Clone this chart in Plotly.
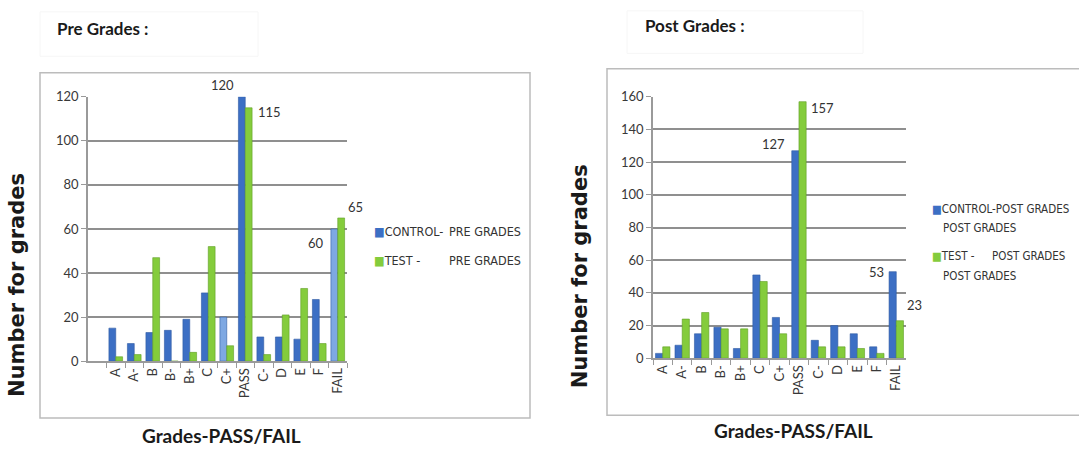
import plotly.graph_objects as go

W, H = 1079, 457

# Grade categories (same order on both charts)
grades = ["A", "A-", "B", "B-", "B+", "C", "C+", "PASS", "C-", "D", "E", "F", "FAIL"]

# Pre grades: number of students per grade
pre_control = [15, 8, 13, 14, 19, 31, 20, 120, 11, 11, 10, 28, 60]
pre_test = [2, 3, 47, 0, 4, 52, 7, 115, 3, 21, 33, 8, 65]

# Post grades: number of students per grade
post_control = [3, 8, 15, 19, 6, 51, 25, 127, 11, 20, 15, 7, 53]
post_test = [7, 24, 28, 18, 18, 47, 15, 157, 7, 7, 6, 3, 23]

pre_ticks = [0, 20, 40, 60, 80, 100, 120]
post_ticks = [0, 20, 40, 60, 80, 100, 120, 140, 160]

BLUE = "#3c6fc4"
BLUE_LIGHT = "#7ea8e2"
GREEN = "#84cc3c"
FONT = "Lato, 'Open Sans', sans-serif"
NARROW = "'Liberation Sans Narrow', 'DejaVu Sans Condensed', Lato, sans-serif"


def px(x):
    return x / W


def py(y):
    return 1 - y / H


# highlighted control bars in the pre chart
pre_blue_colors = [BLUE_LIGHT if g in ("C+", "FAIL") else BLUE for g in grades]

fig = go.Figure()
fig.add_trace(go.Bar(x=grades, y=pre_control, name="CONTROL-  PRE GRADES",
                     marker=dict(color=pre_blue_colors, line=dict(color="#2f5aa3", width=0.6)),
                     xaxis="x", yaxis="y", offsetgroup="c1"))
fig.add_trace(go.Bar(x=grades, y=pre_test, name="TEST -  PRE GRADES",
                     marker=dict(color=GREEN, line=dict(color="#5f9d25", width=0.6)),
                     xaxis="x", yaxis="y", offsetgroup="t1"))
fig.add_trace(go.Bar(x=grades, y=post_control, name="CONTROL-POST GRADES",
                     marker=dict(color=BLUE, line=dict(color="#2f5aa3", width=0.6)),
                     xaxis="x2", yaxis="y2", offsetgroup="c2"))
fig.add_trace(go.Bar(x=grades, y=post_test, name="TEST -  POST GRADES",
                     marker=dict(color=GREEN, line=dict(color="#5f9d25", width=0.6)),
                     xaxis="x2", yaxis="y2", offsetgroup="t2"))

axis_common = dict(showline=True, linecolor="#9a9a9a", linewidth=1.5,
                   tickfont=dict(family=FONT, size=13, color="#383838"))

fig.update_layout(
    width=W, height=H,
    margin=dict(l=0, r=0, t=0, b=0),
    paper_bgcolor="white", plot_bgcolor="white",
    showlegend=False,
    barmode="group",
    bargap=0.26,
    xaxis=dict(domain=[px(88), px(347)], anchor="y", type="category",
               range=[-1.5, 12.5], tickangle=-90, ticks="outside", tickson="boundaries",
               ticklen=5, tickcolor="#9a9a9a", **axis_common),
    yaxis=dict(domain=[py(366), py(92)], anchor="x", range=[0, 120],
               tickvals=pre_ticks, showgrid=True, gridcolor="#8f8f8f", gridwidth=1.5,
               ticks="outside", ticklen=5, tickcolor="#9a9a9a", zeroline=False, **axis_common),
    xaxis2=dict(domain=[px(653), px(906)], anchor="y2", type="category",
                range=[-0.5, 12.5], tickangle=-90, ticks="outside", tickson="boundaries",
                ticklen=5, tickcolor="#9a9a9a", **axis_common),
    yaxis2=dict(domain=[py(363), py(92)], anchor="x2", range=[0, 160],
                tickvals=post_ticks, showgrid=True, gridcolor="#8f8f8f", gridwidth=1.5,
                ticks="outside", ticklen=5, tickcolor="#9a9a9a", zeroline=False, **axis_common),
)

shapes = []
# chart frames
shapes.append(dict(type="rect", xref="paper", yref="paper", x0=px(40), x1=px(530),
                   y0=py(425), y1=py(67), line=dict(color="#bcbcbc", width=1.5)))
shapes.append(dict(type="rect", xref="paper", yref="paper", x0=px(607), x1=px(1090),
                   y0=py(422), y1=py(63), line=dict(color="#bcbcbc", width=1.5)))
# faint title boxes
shapes.append(dict(type="rect", xref="paper", yref="paper", x0=px(40), x1=px(258),
                   y0=py(50), y1=py(4), line=dict(color="#f6f6f6", width=1)))
shapes.append(dict(type="rect", xref="paper", yref="paper", x0=px(627), x1=px(863),
                   y0=py(47), y1=py(3), line=dict(color="#f6f6f6", width=1)))

ann = []


def text(x, y, s, size, family=FONT, bold=False, color="#1a1a1a", xanchor="left", angle=0):
    if bold:
        s = "<b>" + s + "</b>"
    ann.append(dict(x=px(x), y=py(y), xref="paper", yref="paper", text=s, showarrow=False,
                    xanchor=xanchor, yanchor="middle", textangle=angle,
                    font=dict(family=family, size=size, color=color)))


# titles
text(55, 21, "Pre Grades :", 17, bold=True)
text(643, 18, "Post Grades :", 17, bold=True)
text(221, 443, "Grades-PASS/FAIL", 19, bold=True, xanchor="center")
text(793, 438, "Grades-PASS/FAIL", 19, bold=True, xanchor="center")
text(17, 287, "Number for grades", 21, family="'DejaVu Sans', sans-serif", bold=True,
     xanchor="center", angle=-90)
text(580, 278, "Number for grades", 21, family="'DejaVu Sans', sans-serif", bold=True,
     xanchor="center", angle=-90)

# legends
sq_b = f"<span style='color:{BLUE}'>■</span>"
sq_g = f"<span style='color:{GREEN}'>■</span>"
text(372, 232, sq_b + "CONTROL-", 12.5, family=NARROW, color="#333333")
text(447, 232, "PRE GRADES", 12.5, family=NARROW, color="#333333")
text(372, 262, sq_g + "TEST -", 12.5, family=NARROW, color="#333333")
text(447, 262, "PRE GRADES", 12.5, family=NARROW, color="#333333")
text(930, 208, sq_b + "CONTROL-POST GRADES", 11.5, family=NARROW, color="#333333")
text(941, 228, "POST GRADES", 11.5, family=NARROW, color="#333333")
text(930, 257, sq_g + "TEST -", 11.5, family=NARROW, color="#333333")
text(990, 257, "POST GRADES", 11.5, family=NARROW, color="#333333")
text(941, 278, "POST GRADES", 11.5, family=NARROW, color="#333333")


# value labels placed next to the tall bars
def value_label(xa, ya, cat, val, dx, dy):
    ann.append(dict(x=cat, y=val, xref=xa, yref=ya, text=str(val), showarrow=False,
                    xshift=dx, yshift=dy, font=dict(family=FONT, size=13, color="#333333")))


i_pass = grades.index("PASS")
i_fail = grades.index("FAIL")
value_label("x", "y", "PASS", pre_control[i_pass], -23, 12)
value_label("x", "y", "PASS", pre_test[i_pass], 24, -4)
value_label("x", "y", "FAIL", pre_control[i_fail], -22, -14)
value_label("x", "y", "FAIL", pre_test[i_fail], 18, 11)
value_label("x2", "y2", "PASS", post_control[i_pass], -25, 7)
value_label("x2", "y2", "PASS", post_test[i_pass], 24, -6)
value_label("x2", "y2", "FAIL", post_control[i_fail], -20, 0)
value_label("x2", "y2", "FAIL", post_test[i_fail], 18, 16)

fig.update_layout(shapes=shapes, annotations=ann)
fig.update_traces(cliponaxis=False)

fig.write_html("out.html")
